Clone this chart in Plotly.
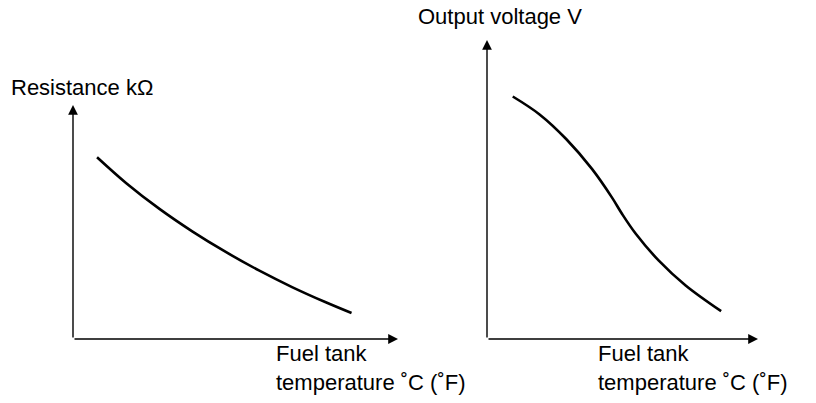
import plotly.graph_objects as go

W, H = 816, 403

# Fuel tank temperature sensor: resistance vs temperature (relative units)
temp_res = [7.4, 16.4, 26.6, 36.8, 47.0, 57.2, 67.4, 77.6, 85.7]
resistance = [77.7, 66.6, 55.6, 45.9, 37.2, 29.3, 22.2, 15.8, 11.1]

# Fuel tank temperature sensor: output voltage vs temperature (relative units)
temp_volt = [9.5, 19.4, 29.3, 38.8, 46.2, 49.8, 54.9, 63.4, 73.3, 86.4]
voltage = [81.1, 75.1, 66.8, 56.8, 47.2, 41.9, 35.2, 26.2, 17.9, 9.3]

y_title_left = "Resistance kΩ"
y_title_right = "Output voltage V"
x_title = "Fuel tank<br>temperature ˚C (˚F)"

FONT = "Liberation Sans, Arial, Helvetica, sans-serif"
FS = 22


def px(x):
    return x / W


def py(y):
    return (H - y) / H


fig = go.Figure()
fig.add_trace(go.Scatter(x=temp_res, y=resistance, mode="lines",
                         line=dict(color="black", width=2.6, shape="spline", smoothing=1.0),
                         xaxis="x", yaxis="y", hoverinfo="skip"))
fig.add_trace(go.Scatter(x=temp_volt, y=voltage, mode="lines",
                         line=dict(color="black", width=2.6, shape="spline", smoothing=1.0),
                         xaxis="x2", yaxis="y2", hoverinfo="skip"))

# each panel's data range spans from its origin to its arrow tips
ax_common = dict(range=[0, 100], visible=False, fixedrange=True)
fig.update_layout(
    width=W, height=H,
    margin=dict(l=0, r=0, t=0, b=0),
    paper_bgcolor="white", plot_bgcolor="white",
    showlegend=False,
    xaxis=dict(domain=[px(73), px(398)], anchor="y", **ax_common),
    yaxis=dict(domain=[py(339), py(105)], anchor="x", **ax_common),
    xaxis2=dict(domain=[px(487), px(758)], anchor="y2", **ax_common),
    yaxis2=dict(domain=[py(339), py(40)], anchor="x2", **ax_common),
)

annotations = []
# axis arrows drawn from the origin of each panel
for xr, yr in (("x", "y"), ("x2", "y2")):
    for tip in ((100, 0), (0, 100)):
        annotations.append(dict(
            x=tip[0], y=tip[1], xref=xr, yref=yr,
            ax=0, ay=0, axref=xr, ayref=yr,
            text="", showarrow=True, arrowhead=2, arrowsize=1.4,
            arrowwidth=1.4, arrowcolor="black", standoff=0, startstandoff=0,
        ))


def label(text, x, y):
    return dict(text=text, x=px(x), y=py(y), xref="paper", yref="paper",
                xanchor="left", yanchor="middle", align="left", showarrow=False,
                font=dict(family=FONT, size=FS, color="black"))


annotations += [
    label(y_title_left, 9, 88),
    label(y_title_right, 416, 17),
    label(x_title, 274, 368),
    label(x_title, 596, 368),
]
fig.update_layout(annotations=annotations)

fig.write_html("out.html")
